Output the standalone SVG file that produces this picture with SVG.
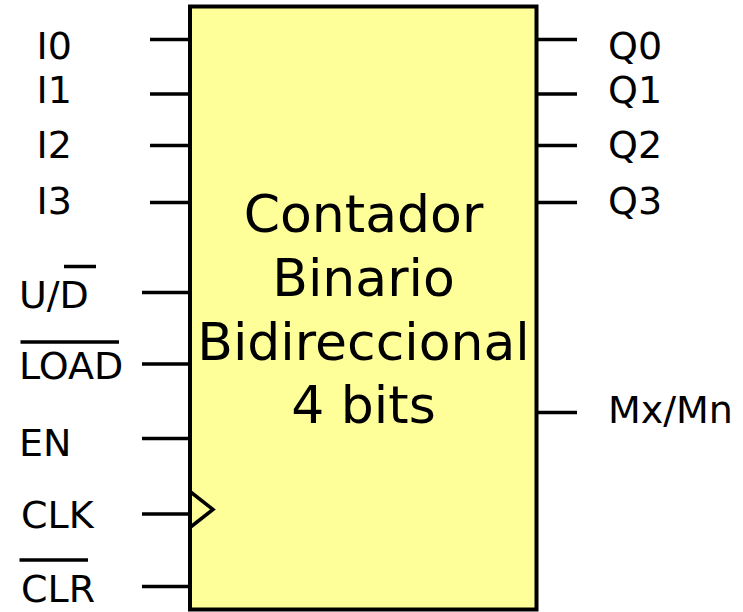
<svg xmlns="http://www.w3.org/2000/svg" width="743" height="612" viewBox="0 0 743 612">
<style>
text{font-family:"DejaVu Sans","Liberation Sans",sans-serif;fill:#000}
.lbl{font-size:38px}
.ctr{font-size:52px;text-anchor:middle}
.pin{stroke:#000;stroke-width:3.5;fill:none}
.bar{stroke:#000;stroke-width:3.5}
</style>
<rect width="743" height="612" fill="#fff"/>
<g id="counter">
<rect x="190" y="6.5" width="346.5" height="603" fill="#ffff99" stroke="#000" stroke-width="4"/>
<polyline points="190,491.5 213,509.5 190,527.5" fill="none" stroke="#000" stroke-width="3.5"/>
<text class="ctr" x="363.5" y="232">Contador</text>
<text class="ctr" x="363.5" y="296">Binario</text>
<text class="ctr" x="363.5" y="360">Bidireccional</text>
<text class="ctr" x="363.5" y="423">4 bits</text>
</g>
<g id="connectors">
<line class="pin" x1="150" y1="39.5" x2="190" y2="39.5"/>
<line class="pin" x1="150" y1="94" x2="190" y2="94"/>
<line class="pin" x1="150" y1="145.5" x2="190" y2="145.5"/>
<line class="pin" x1="150" y1="202.5" x2="190" y2="202.5"/>
<line class="pin" x1="142" y1="292.5" x2="190" y2="292.5"/>
<line class="pin" x1="142" y1="364" x2="190" y2="364"/>
<line class="pin" x1="142" y1="438.5" x2="190" y2="438.5"/>
<line class="pin" x1="142" y1="514" x2="190" y2="514"/>
<line class="pin" x1="142" y1="586.5" x2="190" y2="586.5"/>
<line class="pin" x1="536.5" y1="39.5" x2="577" y2="39.5"/>
<line class="pin" x1="536.5" y1="94" x2="577" y2="94"/>
<line class="pin" x1="536.5" y1="145.5" x2="577" y2="145.5"/>
<line class="pin" x1="536.5" y1="202.5" x2="577" y2="202.5"/>
<line class="pin" x1="536.5" y1="412.5" x2="577" y2="412.5"/>
</g>
<g id="in-I0"><text class="lbl" x="36.5" y="59">I0</text></g>
<g id="in-I1"><text class="lbl" x="36.5" y="103">I1</text></g>
<g id="in-I2"><text class="lbl" x="36.5" y="158">I2</text></g>
<g id="in-I3"><text class="lbl" x="36.5" y="214">I3</text></g>
<g id="in-UD"><text class="lbl" x="19" y="308">U/D</text><line class="bar" x1="64" y1="266.5" x2="96" y2="266.5"/></g>
<g id="in-LOAD"><text class="lbl" x="19" y="379">LOAD</text><line class="bar" x1="20.5" y1="342" x2="119" y2="342"/></g>
<g id="in-EN"><text class="lbl" x="19" y="456">EN</text></g>
<g id="in-CLK"><text class="lbl" x="21" y="528">CLK</text></g>
<g id="in-CLR"><text class="lbl" x="21" y="602">CLR</text><line class="bar" x1="19.5" y1="560" x2="88" y2="560"/></g>
<g id="out-Q0"><text class="lbl" x="608" y="59">Q0</text></g>
<g id="out-Q1"><text class="lbl" x="608" y="103">Q1</text></g>
<g id="out-Q2"><text class="lbl" x="608" y="158">Q2</text></g>
<g id="out-Q3"><text class="lbl" x="608" y="214">Q3</text></g>
<g id="out-MxMn"><text class="lbl" x="608" y="423">Mx/Mn</text></g>
</svg>
